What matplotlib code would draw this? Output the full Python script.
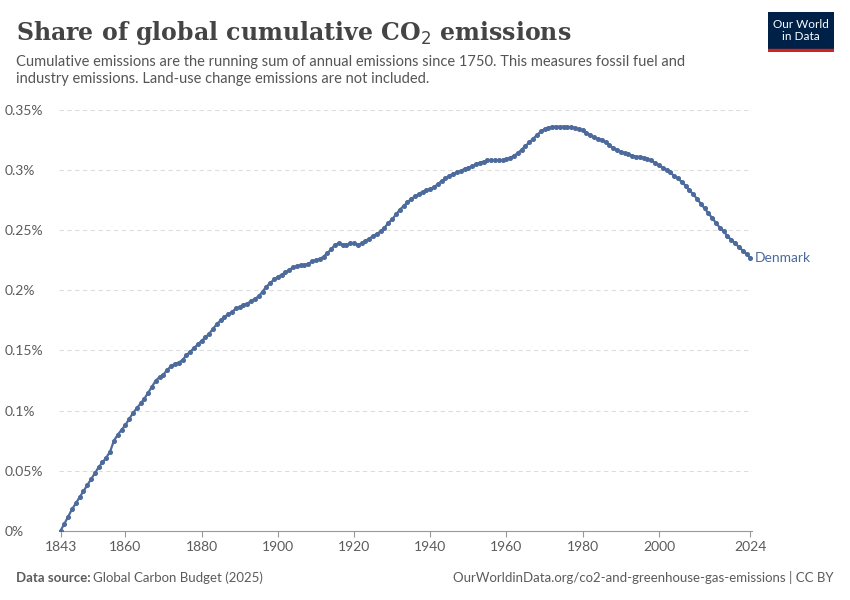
import matplotlib
matplotlib.use("Agg")
import matplotlib.pyplot as plt
import numpy as np

years = list(range(1843, 2025))
share = [0.0003, 0.006, 0.012, 0.018, 0.023, 0.028, 0.033,
         0.038, 0.043, 0.048, 0.053, 0.057, 0.061, 0.066, 0.075, 0.080, 0.084,
         0.088, 0.093, 0.098, 0.102, 0.106, 0.110, 0.115, 0.120, 0.125, 0.128,
         0.130, 0.134, 0.137, 0.139, 0.140, 0.142, 0.146, 0.149, 0.152, 0.155,
         0.158, 0.161, 0.164, 0.168, 0.172, 0.175, 0.178, 0.180, 0.182, 0.185,
         0.186, 0.188, 0.189, 0.191, 0.193, 0.195, 0.199, 0.203, 0.206, 0.209,
         0.211, 0.213, 0.215, 0.217, 0.219, 0.220, 0.221, 0.221, 0.222, 0.224,
         0.225, 0.226, 0.228, 0.231, 0.234, 0.238, 0.239, 0.238, 0.238, 0.239,
         0.239, 0.238, 0.239, 0.241, 0.243, 0.245, 0.247, 0.249, 0.252, 0.256,
         0.259, 0.263, 0.267, 0.270, 0.273, 0.276, 0.278, 0.280, 0.282, 0.283,
         0.284, 0.286, 0.288, 0.291, 0.293, 0.295, 0.297, 0.298, 0.299, 0.301,
         0.302, 0.303, 0.305, 0.306, 0.307, 0.308, 0.308, 0.308, 0.308, 0.308,
         0.309, 0.310, 0.312, 0.314, 0.317, 0.320, 0.323, 0.326, 0.329, 0.332,
         0.334, 0.335, 0.336, 0.336, 0.336, 0.336, 0.3357, 0.3355, 0.335, 0.334,
         0.333, 0.331, 0.329, 0.327, 0.326, 0.325, 0.323, 0.321, 0.318, 0.317,
         0.315, 0.314, 0.313, 0.312, 0.311, 0.311, 0.310, 0.309, 0.308, 0.306,
         0.304, 0.302, 0.300, 0.298, 0.295, 0.293, 0.290, 0.287, 0.283, 0.280,
         0.276, 0.272, 0.268, 0.264, 0.260, 0.256, 0.252, 0.249, 0.245, 0.242,
         0.239, 0.236, 0.233, 0.230, 0.227]
xticks = [1843, 1860, 1880, 1900, 1920, 1940, 1960, 1980, 2000, 2024]
yticks = [0, 0.05, 0.1, 0.15, 0.2, 0.25, 0.3, 0.35]
ylabels = ["0%", "0.05%", "0.1%", "0.15%", "0.2%", "0.25%", "0.3%", "0.35%"]

blue = "#4C6A9C"
grey = "#5B5B5B"
plt.rcParams["font.family"] = ["Lato", "DejaVu Sans"]
fig = plt.figure(figsize=(8.5, 6), dpi=100)
ax = fig.add_axes([0.069, 0.115, 0.816, 0.702])
ax.plot(years, share, color=blue, lw=1.6, marker="o", ms=2.6, zorder=3)
ax.set_xlim(1842.5, 2024.5)
ax.set_ylim(0, 0.35)
ax.set_yticks(yticks)
ax.set_yticklabels(ylabels)
ax.set_xticks(xticks)
ax.tick_params(axis="y", length=0, labelsize=10, colors=grey, pad=4)
ax.tick_params(axis="x", length=4, labelsize=10, colors=grey, color="#999999")
for lab in ax.get_yticklabels():
    lab.set_horizontalalignment("left")
    lab.set_x(-0.07)
ax.grid(axis="y", color="#DDDDDD", ls=(0, (4, 3)), lw=0.8)
for sp in ["top", "right", "left"]:
    ax.spines[sp].set_visible(False)
ax.spines["bottom"].set_color("#999999")
ax.text(years[-1] + 1.2, share[-1], "Denmark", color=blue, fontsize=10, va="center",
        clip_on=False)

fig.text(0.019, 0.945, "Share of global cumulative CO$_2$ emissions", fontsize=17,
         family=["DejaVu Serif"], weight="bold", color="#444444", va="center")
fig.text(0.019, 0.883, "Cumulative emissions are the running sum of annual emissions since 1750. This measures fossil fuel and\nindustry emissions. Land-use change emissions are not included.",
         fontsize=10.5, color="#555555", va="center", linespacing=1.3)
fig.text(0.019, 0.037, "Data source:", fontsize=9.5, color=grey, weight="bold", va="center")
fig.text(0.109, 0.037, "Global Carbon Budget (2025)", fontsize=9.5, color=grey, va="center")
fig.text(0.981, 0.037, "OurWorldinData.org/co2-and-greenhouse-gas-emissions | CC BY",
         fontsize=9.5, color=grey, va="center", ha="right")

logo = fig.add_axes([0.904, 0.913, 0.077, 0.067])
logo.set_facecolor("#002147")
logo.set_xticks([]); logo.set_yticks([])
for sp in logo.spines.values():
    sp.set_visible(False)
logo.axhspan(0, 0.07, color="#CE261E")
logo.set_ylim(0, 1); logo.set_xlim(0, 1)
logo.text(0.5, 0.55, "Our World\nin Data", color="white", fontsize=8.5, ha="center",
          va="center", linespacing=1.1)

fig.savefig("out.png", dpi=100)
